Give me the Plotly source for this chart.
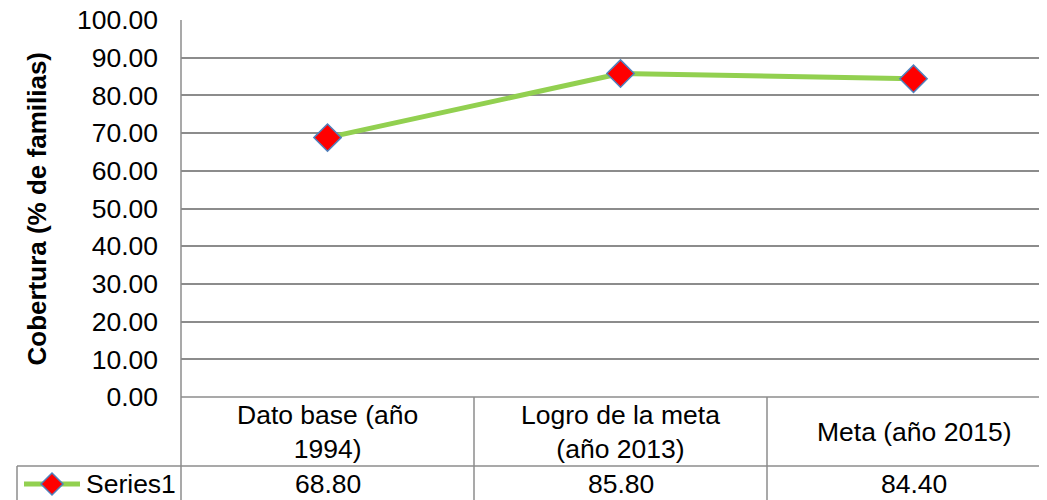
import plotly.graph_objects as go

categories = ["Dato base (año<br>1994)", "Logro de la meta<br>(año 2013)", "Meta (año 2015)"]
values = [68.80, 85.80, 84.40]
series_name = "Series1"
y_title = "Cobertura (% de familias)"
y_range = [0, 100]

OFF = 8              # page body margin offset
W, H = 1047, 500
L = 181 - OFF        # left edge of plot area (figure px)
TOP, BOT = 20, 397   # plot area top / bottom (page px)
ROW2 = 466           # line between category row and values row (page px)
COLW = 293           # column width (px)
XR = [-0.5, -0.5 + (W - L) / COLW]

FONT = "Liberation Sans, Arial, sans-serif"
FS = 26.5
GRID = "#8c8c8c"

def px_x(px):
    return (px - OFF - L) / (W - L)

def px_y(py):
    return 1 - (py - OFF) / H

def data_to_paper(xv):
    return (xv - XR[0]) / (XR[1] - XR[0])

fig = go.Figure()
fig.add_trace(go.Scatter(
    x=list(range(len(values))), y=values, name=series_name,
    mode="lines+markers",
    line=dict(color="#92D050", width=5),
    marker=dict(symbol="diamond", size=21, color="#FF0000",
                line=dict(color="#4F81BD", width=1.5)),
    showlegend=False,
))

shapes = []
line_style = dict(color=GRID, width=1.5)
BOTTOM = 520
shapes.append(dict(type="line", xref="paper", yref="paper",
                   x0=0, x1=0, y0=px_y(TOP), y1=px_y(BOTTOM), line=line_style))
shapes.append(dict(type="line", xref="paper", yref="paper",
                   x0=0, x1=1, y0=px_y(BOT), y1=px_y(BOT), line=line_style))
shapes.append(dict(type="line", xref="paper", yref="paper",
                   x0=px_x(17), x1=1, y0=px_y(ROW2), y1=px_y(ROW2), line=line_style))
shapes.append(dict(type="line", xref="paper", yref="paper",
                   x0=px_x(17), x1=px_x(17), y0=px_y(ROW2), y1=px_y(BOTTOM), line=line_style))
for i in range(len(categories) - 1):
    xp = data_to_paper(i + 0.5)
    shapes.append(dict(type="line", xref="paper", yref="paper",
                       x0=xp, x1=xp, y0=px_y(BOT), y1=px_y(BOTTOM), line=line_style))

# legend key inside the data table (line + diamond)
ky = 484
shapes.append(dict(type="line", xref="paper", yref="paper",
                   x0=px_x(24), x1=px_x(80), y0=px_y(ky), y1=px_y(ky),
                   line=dict(color="#92D050", width=5)))
kx, kr = 52, 11
path = (f"M {px_x(kx - kr)} {px_y(ky)} L {px_x(kx)} {px_y(ky - kr)} "
        f"L {px_x(kx + kr)} {px_y(ky)} L {px_x(kx)} {px_y(ky + kr)} Z")
shapes.append(dict(type="path", xref="paper", yref="paper", path=path,
                   fillcolor="#FF0000", line=dict(color="#4F81BD", width=1.5)))

annotations = []
for i, (c, v) in enumerate(zip(categories, values)):
    annotations.append(dict(x=data_to_paper(i), y=px_y((BOT + ROW2) / 2), xref="paper", yref="paper",
                            text=c, showarrow=False, xanchor="center", yanchor="middle",
                            font=dict(family=FONT, size=FS, color="black")))
    annotations.append(dict(x=data_to_paper(i), y=px_y(ky), xref="paper", yref="paper",
                            text=f"{v:.2f}", showarrow=False, xanchor="center", yanchor="middle",
                            font=dict(family=FONT, size=FS, color="black")))
annotations.append(dict(x=px_x(84), y=px_y(ky), xref="paper", yref="paper",
                        text=series_name, showarrow=False, xanchor="left", yanchor="middle",
                        font=dict(family=FONT, size=FS, color="black")))
annotations.append(dict(x=px_x(36), y=px_y((TOP + BOT) / 2), xref="paper", yref="paper",
                        text=f"<b>{y_title}</b>", textangle=-90, showarrow=False,
                        xanchor="center", yanchor="middle",
                        font=dict(family=FONT, size=26, color="black")))

fig.update_layout(
    width=W, height=H,
    margin=dict(l=L, r=0, t=0, b=0, autoexpand=False),
    paper_bgcolor="white", plot_bgcolor="white",
    font=dict(family=FONT, size=FS, color="black"),
    xaxis=dict(range=XR, showticklabels=False, showgrid=False, zeroline=False,
               showline=False, ticks="", automargin=False),
    yaxis=dict(range=y_range, tick0=0, dtick=10, tickformat=".2f",
               domain=[px_y(BOT), px_y(TOP)], ticklabeloverflow="allow",
               showgrid=True, gridcolor=GRID, gridwidth=1.5, zeroline=False,
               showline=False, ticks="", ticklabelstandoff=22, automargin=False,
               tickfont=dict(family=FONT, size=FS, color="black")),
    showlegend=False,
    shapes=shapes, annotations=annotations,
)

fig.write_html("out.html")
